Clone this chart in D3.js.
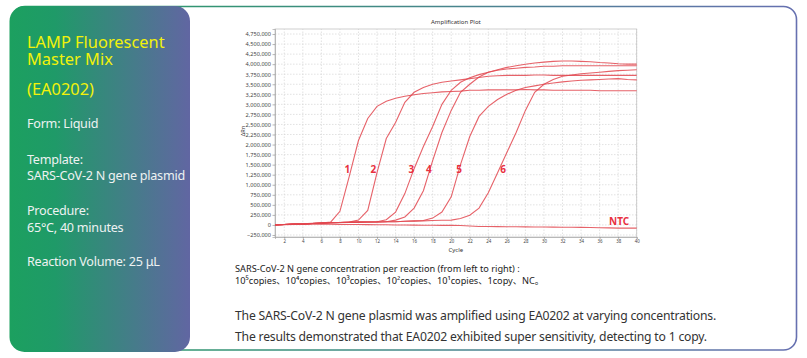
<!DOCTYPE html>
<html>

<head>
    <meta charset="utf-8">
    <script src="https://d3js.org/d3.v7.min.js"></script>
    <style>
        body {
            margin: 0;
            background: #fff;
        }

        svg text {
            font-family: "Noto Sans", "Noto Sans CJK SC", sans-serif;
        }
    </style>
</head>

<body>
    <div id="card"></div>

    <script>
        // cycles on the x axis
        var cycles = d3.range(1, 41);

        // delta Rn per cycle, one array per template amount
        var curve1 = [0, 10000, 20000, 30000, 40000, 50000, 70000, 340000, 1200000, 2100000,
            2650000, 2950000, 3080000, 3150000, 3200000, 3240000, 3270000, 3290000, 3310000, 3320000,
            3330000, 3350000, 3350000, 3360000, 3360000, 3360000, 3360000, 3370000, 3360000, 3360000,
            3350000, 3350000, 3350000, 3350000, 3350000, 3340000, 3340000, 3340000, 3340000, 3340000];
        var curve2 = [0, 10000, 20000, 25000, 35000, 45000, 55000, 60000, 70000, 120000,
            360000, 1300000, 2150000, 2550000, 3050000, 3300000, 3420000, 3500000, 3550000, 3580000,
            3610000, 3640000, 3670000, 3700000, 3710000, 3720000, 3720000, 3720000, 3730000, 3730000,
            3720000, 3720000, 3720000, 3720000, 3720000, 3720000, 3720000, 3720000, 3720000, 3720000];
        var curve3 = [0, 10000, 20000, 25000, 35000, 45000, 55000, 60000, 65000, 70000,
            75000, 80000, 130000, 320000, 780000, 1400000, 1950000, 2450000, 3000000, 3350000,
            3550000, 3660000, 3740000, 3800000, 3860000, 3920000, 3960000, 4000000, 4030000, 4050000,
            4070000, 4080000, 4080000, 4070000, 4060000, 4040000, 4030000, 4010000, 4000000, 4000000];
        var curve4 = [0, 10000, 20000, 25000, 35000, 45000, 55000, 60000, 65000, 70000,
            72000, 75000, 80000, 120000, 200000, 420000, 850000, 1600000, 2300000, 2850000,
            3300000, 3500000, 3680000, 3800000, 3850000, 3880000, 3900000, 3920000, 3930000, 3950000,
            3950000, 3960000, 3960000, 3960000, 3960000, 3960000, 3960000, 3960000, 3960000, 3960000];
        var curve5 = [0, 10000, 20000, 25000, 35000, 45000, 55000, 60000, 65000, 70000,
            72000, 75000, 78000, 80000, 90000, 100000, 110000, 170000, 320000, 700000,
            1500000, 2200000, 2700000, 2950000, 3120000, 3250000, 3350000, 3420000, 3460000, 3500000,
            3530000, 3560000, 3580000, 3600000, 3610000, 3620000, 3630000, 3640000, 3620000, 3610000];
        var curve6 = [0, 10000, 20000, 25000, 35000, 45000, 55000, 60000, 65000, 70000,
            72000, 75000, 78000, 80000, 90000, 95000, 100000, 110000, 115000, 120000,
            160000, 240000, 420000, 800000, 1300000, 1800000, 2300000, 2850000, 3300000, 3500000,
            3620000, 3700000, 3730000, 3760000, 3780000, 3800000, 3820000, 3840000, 3850000, 3860000];
        var ntc = [0, 5000, 10000, 15000, 18000, 20000, 18000, 15000, 12000, 10000,
            8000, 5000, 3000, 0, -2000, -4000, -6000, -8000, -10000, -12000,
            -15000, -25000, -38000, -40000, -42000, -44000, -46000, -48000, -50000, -52000,
            -54000, -56000, -58000, -60000, -62000, -68000, -74000, -78000, -78000, -78000];

        var curveLabels = ["1", "2", "3", "4", "5", "6"];
        var labelCycles = [8.8, 11.6, 15.7, 17.6, 20.85, 25.6];
        var labelValue = 1390000;

        var yTicks = d3.range(-250000, 4750001, 250000);
        var xTicks = d3.range(2, 41, 2);

        var caption1 = "SARS-CoV-2 N gene concentration per reaction (from left to right) :";
        var caption2 = "10⁵copies、10⁴copies、10³copies、10²copies、10¹copies、1copy、NC。";
        var note1 = "The SARS-CoV-2 N gene plasmid was amplified using EA0202 at varying concentrations.";
        var note2 = "The results demonstrated that EA0202 exhibited super sensitivity, detecting to 1 copy.";

        var W = 807, H = 358;
        var svg = d3.select("#card").append("svg")
            .attr("width", W)
            .attr("height", H);

        var defs = svg.append("defs");
        var frameGrad = defs.append("linearGradient").attr("id", "frameGrad");
        frameGrad.append("stop").attr("offset", "0%").attr("stop-color", "#22a05f");
        frameGrad.append("stop").attr("offset", "100%").attr("stop-color", "#6670b0");
        var panelGrad = defs.append("linearGradient").attr("id", "panelGrad");
        panelGrad.append("stop").attr("offset", "0%").attr("stop-color", "#1ca05f");
        panelGrad.append("stop").attr("offset", "25%").attr("stop-color", "#1f9a68");
        panelGrad.append("stop").attr("offset", "100%").attr("stop-color", "#6166a2");

        // outer card outline
        svg.append("rect")
            .attr("x", 12).attr("y", 6.5)
            .attr("width", 784.5).attr("height", 343.5)
            .attr("rx", 13)
            .attr("fill", "#fff")
            .attr("stroke", "url(#frameGrad)")
            .attr("stroke-width", 1.6);

        // left info panel
        svg.append("rect")
            .attr("x", 9.5).attr("y", 6)
            .attr("width", 180.5).attr("height", 346)
            .attr("rx", 15)
            .attr("fill", "url(#panelGrad)");

        var info = svg.append("g").attr("transform", "translate(27,0)");
        // two-line product name kept in one text block
        var title = info.append("text").attr("y", 48)
            .attr("font-size", 16.4).attr("fill", "#f2f20a");
        title.append("tspan").attr("x", 0).text("LAMP Fluorescent");
        title.append("tspan").attr("x", 0).attr("dy", 17).text("Master Mix");
        info.append("text").attr("y", 95).text("(EA0202)")
            .attr("font-size", 16.4).attr("fill", "#f2f20a");
        [["Form: Liquid", 128], ["Template:", 164], ["SARS-CoV-2 N gene plasmid", 180],
        ["Procedure:", 215], ["65°C, 40 minutes", 232], ["Reaction Volume: 25 μL", 266]].forEach(function (d) {
            info.append("text").attr("y", d[1]).text(d[0])
                .attr("font-size", 12.6).attr("fill", "#eef2f2")
                .attr("letter-spacing", -0.25);
        });

        // amplification plot
        var x = d3.scaleLinear().domain([1, 40]).range([275, 636.7]);
        var y = d3.scaleLinear().domain([-300000, 4875000]).range([237, 29]);
        var plot = svg.append("g");

        plot.append("g").selectAll("line").data(yTicks).enter().append("line")
            .attr("x1", x(1)).attr("x2", x(40))
            .attr("y1", function (d) { return y(d); }).attr("y2", function (d) { return y(d); })
            .attr("stroke", "#d6d6d6").attr("stroke-width", 0.7).attr("stroke-dasharray", "1.5,1.5");
        plot.append("g").selectAll("line").data(xTicks).enter().append("line")
            .attr("y1", y.range()[0]).attr("y2", y.range()[1])
            .attr("x1", function (d) { return x(d); }).attr("x2", function (d) { return x(d); })
            .attr("stroke", "#d6d6d6").attr("stroke-width", 0.7).attr("stroke-dasharray", "1.5,1.5");

        plot.append("rect")
            .attr("x", x(1)).attr("y", y.range()[1])
            .attr("width", x(40) - x(1)).attr("height", y.range()[0] - y.range()[1])
            .attr("fill", "none").attr("stroke", "#c4c4c4").attr("stroke-width", 0.8);

        var yAxis = plot.append("g")
            .attr("transform", "translate(" + x(1) + ",0)")
            .call(d3.axisLeft(y).tickValues(yTicks).tickFormat(d3.format(",")).tickSize(2.5).tickPadding(1.5));
        var xAxis = plot.append("g")
            .attr("transform", "translate(0," + y.range()[0] + ")")
            .call(d3.axisBottom(x).tickValues(xTicks).tickSize(2).tickPadding(1));
        [yAxis, xAxis].forEach(function (a) {
            a.select(".domain").attr("stroke", "#999").attr("stroke-width", 0.6);
            a.selectAll(".tick line").attr("stroke", "#888").attr("stroke-width", 0.6);
            a.selectAll("text").attr("fill", "#444").attr("font-family", "Liberation Sans, Arial, sans-serif");
        });
        yAxis.selectAll("text").attr("font-size", 5.6);
        xAxis.selectAll("text").attr("font-size", 4.4);

        plot.append("text").text("Amplification Plot")
            .attr("x", (x(1) + x(40)) / 2).attr("y", 24)
            .attr("text-anchor", "middle").attr("font-size", 6).attr("fill", "#333")
            .attr("font-family", "Liberation Sans, Arial, sans-serif");
        plot.append("text").text("Cycle")
            .attr("x", (x(1) + x(40)) / 2).attr("y", 251.5)
            .attr("text-anchor", "middle").attr("font-size", 6).attr("fill", "#333")
            .attr("font-family", "Liberation Sans, Arial, sans-serif");
        plot.append("text").text("ΔRn")
            .attr("transform", "translate(245,131) rotate(-90)")
            .attr("text-anchor", "middle").attr("font-size", 5.5).attr("fill", "#333")
            .attr("font-family", "Liberation Sans, Arial, sans-serif");

        var line = d3.line()
            .x(function (d, i) { return x(cycles[i]); })
            .y(function (d) { return y(d); });

        plot.append("g").selectAll("path")
            .data([ntc, curve1, curve2, curve3, curve4, curve5, curve6])
            .enter().append("path")
            .attr("d", line)
            .attr("fill", "none")
            .attr("stroke", "#e2474f")
            .attr("stroke-opacity", 0.85)
            .attr("stroke-width", 1.1);

        plot.append("g").selectAll("text")
            .data(curveLabels).enter().append("text")
            .attr("x", function (d, i) { return x(labelCycles[i]); })
            .attr("y", y(labelValue) + 4)
            .attr("text-anchor", "middle")
            .attr("font-size", 10).attr("font-weight", "bold")
            .attr("fill", "#e8303f")
            .text(function (d) { return d; });
        plot.append("text").text("NTC")
            .attr("x", x(38.1)).attr("y", y(90000) + 4)
            .attr("text-anchor", "middle")
            .attr("font-size", 10).attr("font-weight", "bold")
            .attr("fill", "#e8303f");

        // captions
        svg.append("text").attr("x", 235).attr("y", 272).text(caption1)
            .attr("font-size", 9.2).attr("fill", "#222");
        svg.append("text").attr("x", 235).attr("y", 283.5).text(caption2)
            .attr("font-size", 9.2).attr("fill", "#222");
        svg.append("text").attr("x", 235).attr("y", 320).text(note1)
            .attr("font-size", 12.2).attr("letter-spacing", -0.2).attr("fill", "#333");
        svg.append("text").attr("x", 235).attr("y", 341).text(note2)
            .attr("font-size", 12.2).attr("letter-spacing", -0.2).attr("fill", "#333");
    </script>
</body>

</html>
